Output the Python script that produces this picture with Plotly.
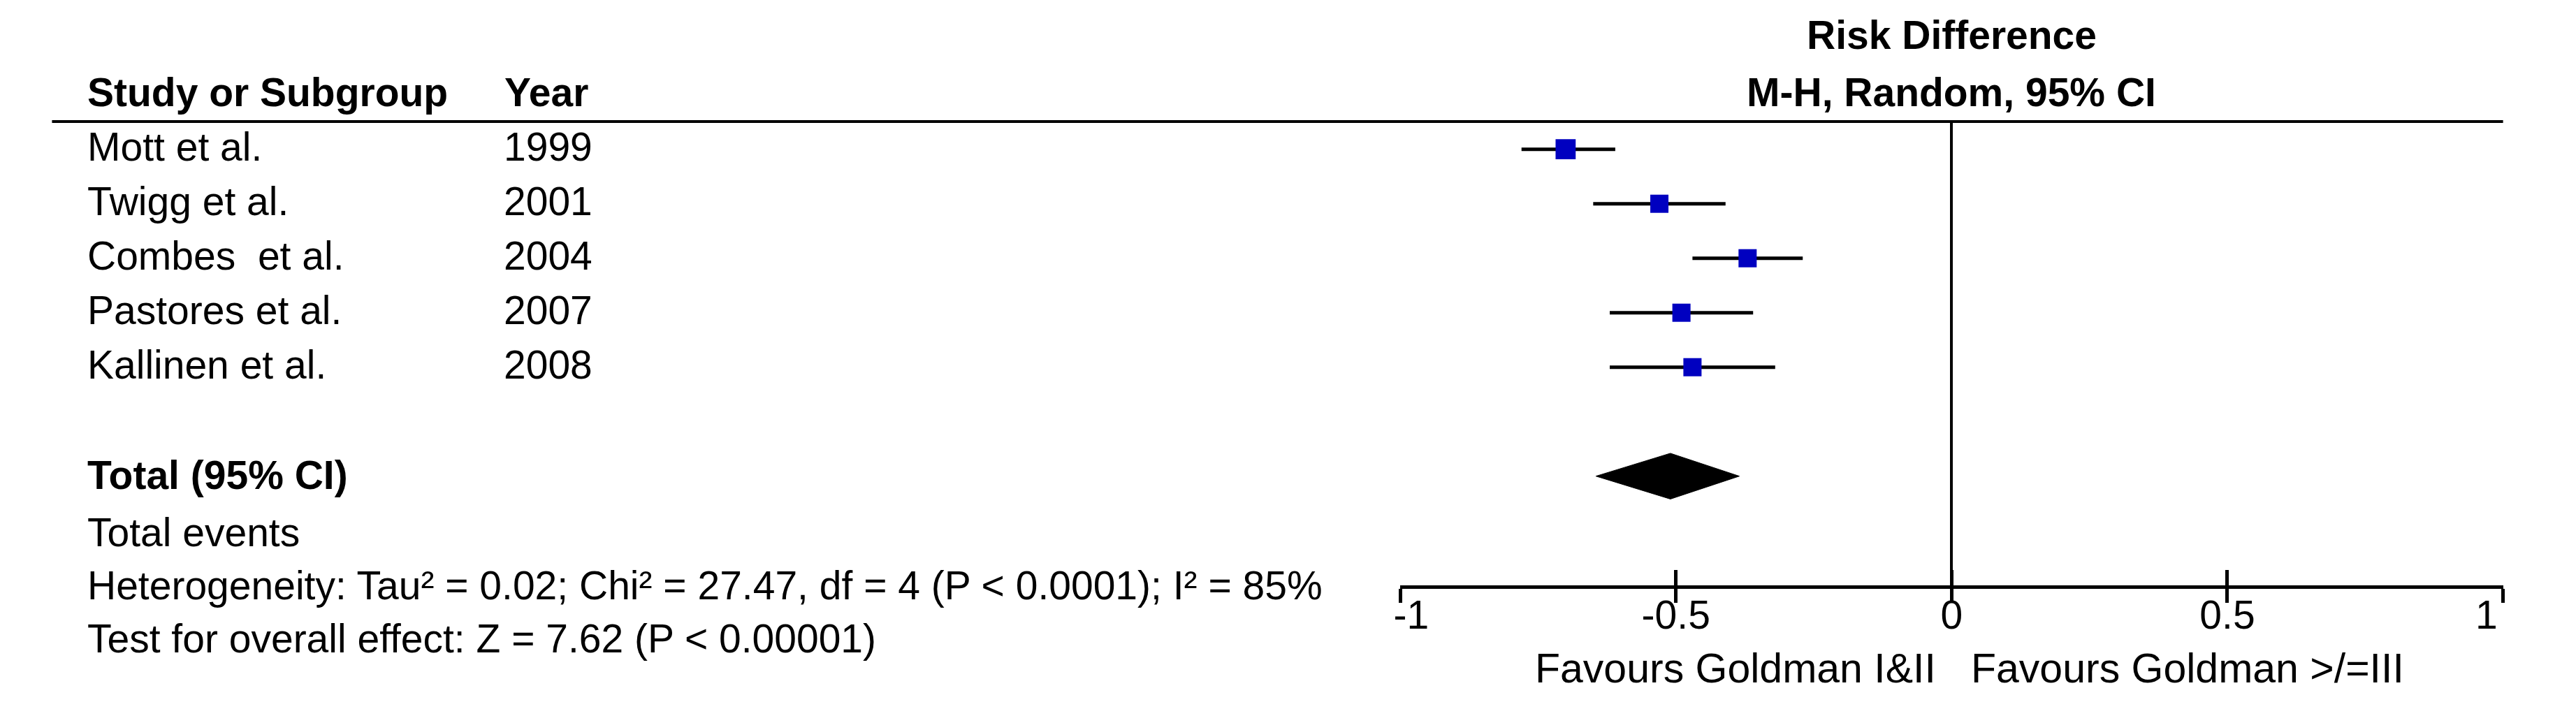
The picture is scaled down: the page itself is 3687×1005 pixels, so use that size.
import plotly.graph_objects as go

W, H = 3687, 1005
FONT = "Liberation Sans, Arial, sans-serif"
FS = 57

# data
studies = ["Mott et al.", "Twigg et al.", "Combes  et al.", "Pastores et al.", "Kallinen et al."]
years = ["1999", "2001", "2004", "2007", "2008"]
rd = [-0.70, -0.53, -0.37, -0.49, -0.47]
ci_low = [-0.78, -0.65, -0.47, -0.62, -0.62]
ci_high = [-0.61, -0.41, -0.27, -0.36, -0.32]
weights = [23.5, 19.2, 19.2, 19.2, 19.2]

total_rd = -0.51
total_low = -0.645
total_high = -0.385

tick_vals = [-1, -0.5, 0, 0.5, 1]
tick_text = ["-1", "-0.5", "0", "0.5", "1"]

footer = [
    "Total events",
    "Heterogeneity: Tau² = 0.02; Chi² = 27.47, df = 4 (P < 0.0001); I² = 85%",
    "Test for overall effect: Z = 7.62 (P < 0.00001)",
]


def px(x):
    return x / W


def py(y):
    return 1 - y / H


rows = list(range(len(studies)))
total_row = len(studies) + 1

# row r sits at pixel 205.7 + 78*r ; plot area spans pixel 166..830
ROW0, ROWH = 205.7, 78.0
TOP, BOT = 166, 830
r_top = (TOP - ROW0) / ROWH
r_bot = (BOT - ROW0) / ROWH

fig = go.Figure()

# CI whiskers
wx, wy = [], []
for lo, hi, r in zip(ci_low, ci_high, rows):
    wx += [lo, hi, None]
    wy += [r, r, None]
fig.add_trace(go.Scatter(x=wx, y=wy, mode="lines", line=dict(color="black", width=5),
                         hoverinfo="skip"))

# study boxes
sizes = [26 * (w / 19.2) ** 0.5 for w in weights]
fig.add_trace(go.Scatter(x=rd, y=rows, mode="markers",
                         marker=dict(symbol="square", size=sizes, color="#0000C0",
                                     opacity=1, line=dict(width=0))))

# pooled diamond
hh = 0.42
fig.add_trace(go.Scatter(
    x=[total_low, total_rd, total_high, total_rd, total_low],
    y=[total_row, total_row - hh, total_row, total_row + hh, total_row],
    mode="lines", fill="toself", fillcolor="black", line=dict(color="black", width=1),
    hoverinfo="skip"))

# dummy trace so the overlay axis (upper half of ticks) is drawn
fig.add_trace(go.Scatter(x=[None], y=[None], xaxis="x2", yaxis="y", showlegend=False))

xdom = [px(1999), px(3613)]
# end labels are pulled inside the axis, as in the reference
padded = ["\u00a0\u00a0" + t if v == -1 else (t + "\u00a0\u00a0\u00a0" if v == 1 else t)
          for v, t in zip(tick_vals, tick_text)]

fig.update_layout(
    width=W, height=H, autosize=False,
    margin=dict(l=0, r=0, t=0, b=0),
    paper_bgcolor="white", plot_bgcolor="white",
    showlegend=False,
    font=dict(family=FONT, size=FS, color="black"),
    xaxis=dict(domain=xdom, range=[-1, 1], tickvals=tick_vals, ticktext=padded,
               ticks="outside", ticklen=20, tickwidth=5, tickcolor="black",
               ticklabelstandoff=-31,
               showline=True, linewidth=5, linecolor="black",
               zeroline=True, zerolinewidth=4, zerolinecolor="black",
               showgrid=False, tickfont=dict(size=FS, color="black"), anchor="y"),
    xaxis2=dict(domain=xdom, range=[-1, 1], overlaying="x", anchor="y", side="bottom",
                tickvals=tick_vals, ticks="inside", ticklen=22, tickwidth=5,
                tickcolor="black", showticklabels=False, showline=False,
                showgrid=False, zeroline=False),
    yaxis=dict(domain=[py(BOT), py(TOP)], range=[r_bot, r_top], visible=False),
    shapes=[dict(type="line", xref="paper", yref="paper", x0=px(26), x1=px(3613),
                 y0=py(TOP), y1=py(TOP), line=dict(color="black", width=4))],
)

ann = []
UP = 8  # annotation middle sits a little below the cap centre


def txt(text, x, y, xref="paper", yref="paper", xanchor="left", xshift=0, yshift=0, size=FS):
    ann.append(dict(text=text, x=x, y=y, xref=xref, yref=yref, xanchor=xanchor,
                    yanchor="middle", showarrow=False, xshift=xshift, yshift=yshift + UP,
                    font=dict(family=FONT, size=size, color="black")))


txt("<b>Risk Difference</b>", 0, py(50), xref="x", xanchor="center")
txt("<b>M-H, Random, 95% CI</b>", 0, py(132), xref="x", xanchor="center")
txt("<b>Study or Subgroup</b>", px(76), py(132))
txt("<b>Year</b>", px(686), py(132))

for name, yr, r in zip(studies, years, rows):
    txt(name, px(76), r, yref="y", yshift=-4)
    txt(yr, px(685), r, yref="y", yshift=-4)

txt("<b>Total (95% CI)</b>", px(76), total_row, yref="y", yshift=-6)
for line, yy in zip(footer, [762, 838, 914]):
    txt(line, px(76), py(yy))

txt("Favours Goldman I&II", 0, py(957), xref="x", xanchor="right", xshift=-20, size=59)
txt("Favours Goldman >/=III", 0, py(957), xref="x", xanchor="left", xshift=26, size=59)

fig.update_layout(annotations=ann)
fig.write_html("out.html")
